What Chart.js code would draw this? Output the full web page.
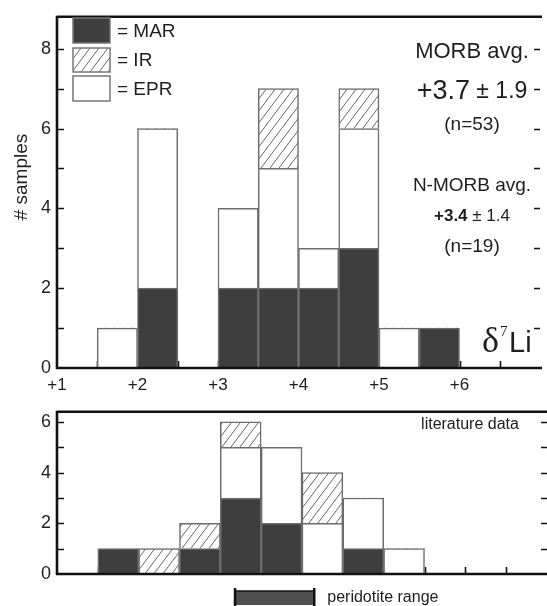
<!DOCTYPE html>
<html><head><meta charset="utf-8">
<script src="https://cdn.jsdelivr.net/npm/chart.js@4.4.1/dist/chart.umd.min.js"></script>
<style>
html,body{margin:0;padding:0;background:#fff;}
#wrap{position:relative;width:547px;height:606px;overflow:hidden;background:#fff;}
#topc{position:absolute;left:0;top:0;}
#botc{position:absolute;left:0;top:395px;}
</style></head><body>
<div id="wrap">
<canvas id="topc" width="547" height="395" style="width:547px;height:395px"></canvas>
<canvas id="botc" width="547" height="211" style="width:547px;height:211px"></canvas>
</div>
<script>
// ---- data ----
const binCenters = [1.25,1.75,2.25,2.75,3.25,3.75,4.25,4.75,5.25,5.75,6.25,6.75];
const topMAR = [0,0,2,0,2,2,2,3,0,1,0,0];
const topEPR = [0,1,4,0,2,3,1,3,1,0,0,0];
const topIR  = [0,0,0,0,0,2,0,1,0,0,0,0];
const litMAR = [0,1,0,1,3,2,0,1,0,0,0,0];
const litEPR = [0,0,0,0,2,3,2,2,1,0,0,0];
const litIR  = [0,0,1,1,1,0,2,0,0,0,0,0];
const xTickValues = [1,2,3,4,5,6];
const xTickLabels = ['+1','+2','+3','+4','+5','+6'];
const topYLabels = [0,2,4,6,8];
const litYLabels = [0,2,4,6];
const peridotiteRange = [3.18, 4.15];
const seriesNames = ['MAR','IR','EPR'];

// ---- style ----
const SANS = '"Liberation Sans", Arial, sans-serif';
const SERIF = '"Liberation Serif", "Times New Roman", serif';
const TXT = '#1e1e1e';
const MARC = '#3e3e3e';
const EDGE = '#6c6c6c';

function makeHatch(){
  const w = 9, h = 12;
  const c = document.createElement('canvas'); c.width = w; c.height = h;
  const g = c.getContext('2d');
  g.fillStyle = '#fff'; g.fillRect(0,0,w,h);
  g.strokeStyle = '#555'; g.lineWidth = 0.9;
  g.beginPath();
  g.moveTo(0,h); g.lineTo(w,0);
  g.moveTo(-w,h); g.lineTo(0,0);
  g.moveTo(w,h); g.lineTo(2*w,0);
  g.stroke();
  return document.getElementById('topc').getContext('2d').createPattern(c,'repeat');
}
const hatch = makeHatch();

function pts(vals){ return binCenters.map((c,i)=>({x:c, y:vals[i]})); }
function ds(label, vals, bg){
  return {label, data: pts(vals), backgroundColor: bg, borderColor: EDGE,
    borderWidth: (c)=> (c.raw && c.raw.y) ? 1.5 : 0, borderSkipped:'start',
    barPercentage:1, categoryPercentage:1};
}

function framePlugin(id){
  return {
    id,
    beforeDatasetsDraw(chart){
      const {ctx, chartArea:a, scales:{x,y}} = chart;
      ctx.save(); ctx.strokeStyle = '#111'; ctx.lineWidth = 1.6;
      ctx.beginPath();
      for (let v = x.min + 0.5; v < x.max; v += 0.5){
        const px = Math.round(x.getPixelForValue(v)) + 0.5;
        ctx.moveTo(px, a.bottom); ctx.lineTo(px, a.bottom - 7);
      }
      ctx.stroke(); ctx.restore();
    },
    afterDraw(chart){
      const {ctx, chartArea:a, scales:{x,y}} = chart;
      ctx.save();
      ctx.strokeStyle = '#111'; ctx.lineWidth = 1.6;
      ctx.beginPath();
      for (let v = 1; v <= Math.floor(y.max); v++){
        const py = Math.round(y.getPixelForValue(v)) + 0.5;
        ctx.moveTo(a.left, py); ctx.lineTo(a.left + 7, py);
        ctx.moveTo(a.right, py); ctx.lineTo(a.right - 6, py);
      }
      ctx.stroke();
      ctx.lineWidth = 2.6;
      ctx.beginPath();
      ctx.moveTo(a.left, a.top); ctx.lineTo(a.right + 2, a.top);
      ctx.moveTo(a.left, a.top - 1); ctx.lineTo(a.left, a.bottom + 1);
      ctx.moveTo(a.left - 1, a.bottom); ctx.lineTo(a.right + 2, a.bottom);
      ctx.stroke();
      ctx.restore();
    }
  };
}

function centered(ctx, parts, cx, cy){
  let w = 0;
  parts.forEach(p=>{ ctx.font = p[1]; w += ctx.measureText(p[0]).width; });
  let x = cx - w/2;
  ctx.textBaseline = 'middle'; ctx.textAlign = 'left';
  parts.forEach(p=>{ ctx.font = p[1]; ctx.fillText(p[0], x, cy); x += ctx.measureText(p[0]).width; });
}

const topText = {
  id:'topText',
  afterDraw(chart){
    const {ctx, chartArea:a} = chart;
    ctx.save(); ctx.fillStyle = TXT;
    // y title
    ctx.save(); ctx.translate(22, 177); ctx.rotate(-Math.PI/2);
    ctx.font = '19px ' + SANS; ctx.textAlign = 'center'; ctx.textBaseline = 'middle';
    ctx.fillText('# samples', 0, 0); ctx.restore();
    // legend
    const boxes = [[18,43,MARC],[48,72,hatch],[76,101,'#fff']];
    seriesNames.forEach((n,i)=>{
      const b = boxes[i];
      ctx.fillStyle = b[2]; ctx.fillRect(73, b[0], 37, b[1]-b[0]);
      ctx.strokeStyle = '#777'; ctx.lineWidth = 1.5; ctx.strokeRect(73, b[0], 37, b[1]-b[0]);
      ctx.fillStyle = TXT; ctx.font = '19px ' + SANS; ctx.textAlign='left'; ctx.textBaseline='middle';
      ctx.fillText('= ' + n, 117, (b[0]+b[1])/2 + 1);
    });
    const cx = 472;
    centered(ctx, [['MORB avg.', '22px '+SANS]], cx, 52);
    centered(ctx, [['+3.7', '27px '+SANS],[' \u00b1 1.9', '23px '+SANS]], cx, 92);
    centered(ctx, [['(n=53)', '19px '+SANS]], cx, 125);
    centered(ctx, [['N-MORB avg.', '19px '+SANS]], cx, 186);
    centered(ctx, [['+3.4', 'bold 17px '+SANS],[' \u00b1 1.4', '17px '+SANS]], cx, 216);
    centered(ctx, [['(n=19)', '19px '+SANS]], cx, 247);
    // delta 7 Li
    ctx.textAlign='left'; ctx.textBaseline='alphabetic';
    ctx.font = '36px ' + SERIF; ctx.fillText('\u03b4', 482, 352);
    ctx.font = '15px ' + SERIF; ctx.fillText('7', 500, 336);
    ctx.font = '29px ' + SANS; ctx.fillText('Li', 509, 352);
    ctx.restore();
  }
};

const botText = {
  id:'botText',
  afterDraw(chart){
    const {ctx, chartArea:a, scales:{x}} = chart;
    ctx.save(); ctx.fillStyle = TXT;
    centered(ctx, [['literature data', '16px '+SANS]], 470, 30);
    const x0 = x.getPixelForValue(peridotiteRange[0]);
    const x1 = x.getPixelForValue(peridotiteRange[1]);
    const yt = a.bottom + 17;
    ctx.fillStyle = '#4f4f4f'; ctx.fillRect(x0, yt, x1-x0, 14);
    ctx.strokeStyle = '#111'; ctx.lineWidth = 1.5;
    ctx.beginPath(); ctx.moveTo(x0, yt); ctx.lineTo(x1, yt); ctx.stroke();
    ctx.lineWidth = 2.5;
    ctx.beginPath();
    ctx.moveTo(x0, yt-3); ctx.lineTo(x0, yt+16);
    ctx.moveTo(x1, yt-3); ctx.lineTo(x1, yt+16);
    ctx.stroke();
    ctx.fillStyle = TXT; ctx.font = '16px ' + SANS; ctx.textAlign='left'; ctx.textBaseline='middle';
    ctx.fillText('peridotite range', x1 + 13, yt + 7);
    ctx.restore();
  }
};

function baseOptions(ymax, yLabels, showX, xHeight, padTop){
  return {
    responsive:false, animation:false, devicePixelRatio:1,
    layout:{padding:{left:0,right:0,top:padTop,bottom:0}},
    plugins:{legend:{display:false}, tooltip:{enabled:false}},
    scales:{
      x:{type:'linear', min:1, max:7, stacked:true, offset:false,
        grid:{display:false, drawTicks:false}, border:{display:false},
        ticks:{display:showX, stepSize:0.5, autoSkip:false, maxRotation:0, padding:7,
          color:TXT, font:{family:SANS, size:17},
          callback:(v)=>{ const i = xTickValues.indexOf(v); return i>=0 ? xTickLabels[i] : ''; }},
        afterFit:(s)=>{ s.height = xHeight; }
      },
      y:{min:0, max:ymax, stacked:true,
        grid:{display:false, drawTicks:false}, border:{display:false},
        ticks:{stepSize:1, includeBounds:false, autoSkip:false, padding:6, color:TXT, font:{family:SANS, size:18},
          callback:(v)=> yLabels.includes(v) ? String(v) : ''},
        afterFit:(s)=>{ s.width = 57; }
      }
    }
  };
}

new Chart(document.getElementById('topc'), {
  type:'bar',
  data:{datasets:[ds('MAR', topMAR, MARC), ds('EPR', topEPR, '#fff'), ds('IR', topIR, hatch)]},
  options: baseOptions(8.8, topYLabels, true, 27, 12),
  plugins:[framePlugin('f1'), topText]
});
new Chart(document.getElementById('botc'), {
  type:'bar',
  data:{datasets:[ds('MAR', litMAR, MARC), ds('EPR', litEPR, '#fff'), ds('IR', litIR, hatch)]},
  options: baseOptions(6.4, litYLabels, false, 32, 2),
  plugins:[framePlugin('f2'), botText]
});
</script>
</body></html>
